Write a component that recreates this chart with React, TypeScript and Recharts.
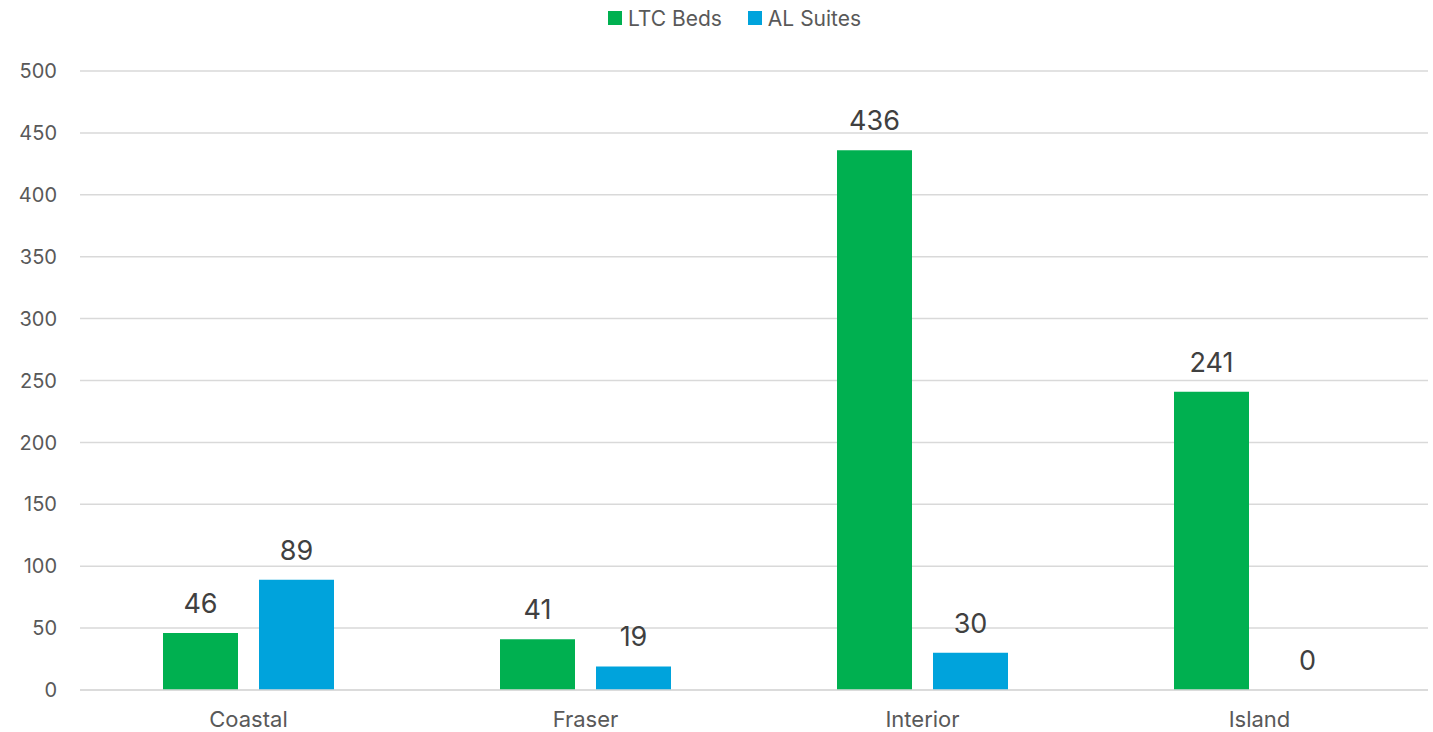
import React from 'react';
import { BarChart, Bar, XAxis, YAxis, CartesianGrid, Legend, LabelList } from 'recharts';

const categories = ['Coastal', 'Fraser', 'Interior', 'Island'];
const ltcBeds = [46, 41, 436, 241];
const alSuites = [89, 19, 30, 0];
const yTicks = [0, 50, 100, 150, 200, 250, 300, 350, 400, 450, 500];

const data = categories.map((c, i) => ({ name: c, ltc: ltcBeds[i], al: alSuites[i] }));

const FONT = 'Inter, "Open Sans", "Liberation Sans", sans-serif';
const GREEN = '#00B050';
const BLUE = '#00A3DC';

const LegendContent = () => (
  <div style={{ display: 'flex', justifyContent: 'center', fontFamily: FONT, fontSize: 21, color: '#595959', height: 36, alignItems: 'center', paddingLeft: 36 }}>
    <span style={{ display: 'inline-flex', alignItems: 'center', marginRight: 26 }}>
      <span style={{ width: 14, height: 14, background: GREEN, display: 'inline-block', marginRight: 6 }} />
      LTC Beds
    </span>
    <span style={{ display: 'inline-flex', alignItems: 'center' }}>
      <span style={{ width: 14, height: 14, background: BLUE, display: 'inline-block', marginRight: 6 }} />
      AL Suites
    </span>
  </div>
);

const renderLabel = (props: any) => {
  const { x, y, width, value } = props;
  return (
    <text
      x={Number(x) + Number(width) / 2}
      y={Number(y) - 20}
      textAnchor="middle"
      fill="#404040"
      fontSize={27}
      fontFamily={FONT}
    >
      {value}
    </text>
  );
};

const zeroMin = (value: any) => (value === 0 ? 0.01 : 0);

export default function App() {
  return (
    <div style={{ position: 'absolute', left: 0, top: 0, width: 1433, height: 732, background: '#fff' }}>
      <BarChart
        width={1433}
        height={732}
        data={data}
        margin={{ top: 35, right: 5, bottom: 0, left: 0 }}
        barGap={21}
        barSize={75}
      >
        <CartesianGrid vertical={false} stroke="#d9d9d9" strokeWidth={1.5} />
        <XAxis
          dataKey="name"
          axisLine={{ stroke: '#d9d9d9', strokeWidth: 1.5 }}
          tickLine={false}
          tickSize={0}
          tickMargin={21}
          height={42}
          tick={{ fill: '#595959', fontSize: 22, fontFamily: FONT }}
        />
        <YAxis
          domain={[0, 500]}
          ticks={yTicks}
          axisLine={false}
          tickLine={false}
          tickSize={0}
          tickMargin={23}
          width={80}
          tick={{ fill: '#595959', fontSize: 20, fontFamily: FONT }}
          interval={0}
        />
        <Legend verticalAlign="top" content={<LegendContent />} wrapperStyle={{ top: 0, left: 0, width: 1433 }} />
        <Bar dataKey="ltc" name="LTC Beds" fill={GREEN} isAnimationActive={false} minPointSize={zeroMin}>
          <LabelList dataKey="ltc" content={renderLabel} />
        </Bar>
        <Bar dataKey="al" name="AL Suites" fill={BLUE} isAnimationActive={false} minPointSize={zeroMin}>
          <LabelList dataKey="al" content={renderLabel} />
        </Bar>
      </BarChart>
    </div>
  );
}
